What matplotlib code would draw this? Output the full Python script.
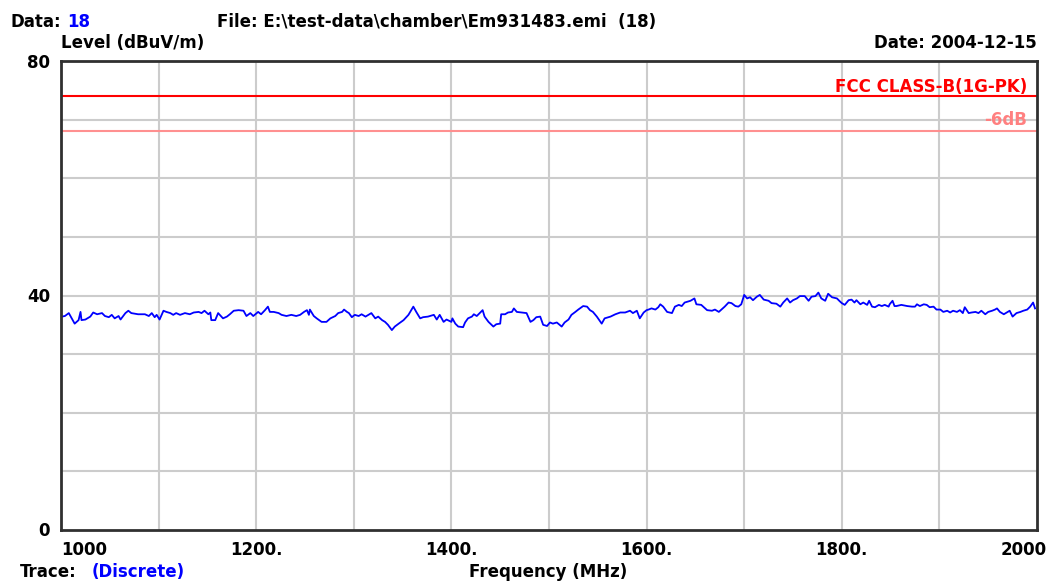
import matplotlib
matplotlib.use('Agg')
import matplotlib.pyplot as plt
import matplotlib.transforms as mtransforms

# Trace values (MHz, dBuV/m)
freq_mhz = [
    1001, 1004, 1008, 1011, 1014, 1018, 1020, 1021, 1025, 1030, 1033, 1037,
    1042, 1045, 1049, 1052, 1055, 1059, 1061, 1066, 1069, 1072, 1079, 1086,
    1090, 1093, 1096, 1098, 1101, 1105, 1108, 1112, 1115, 1118, 1122, 1127,
    1132, 1136, 1141, 1144, 1147, 1151, 1153, 1154, 1158, 1161, 1166, 1170,
    1173, 1177, 1182, 1187, 1190, 1194, 1197, 1202,
    1205, 1209, 1212, 1214, 1218, 1223, 1226, 1231, 1236, 1241, 1245, 1249,
    1252, 1254, 1255, 1259, 1262, 1267, 1272, 1276, 1281, 1284, 1288, 1290,
    1293, 1295, 1298, 1301, 1305, 1308, 1312, 1315, 1318, 1322, 1325, 1329,
    1332, 1335, 1339, 1342, 1346, 1351, 1356, 1361, 1364, 1368, 1371, 1376,
    1382, 1385, 1388, 1392, 1395, 1400,
    1401, 1404, 1407, 1412, 1414, 1417, 1421, 1423, 1426, 1429, 1432, 1434,
    1438, 1443, 1446, 1450, 1451, 1455, 1458, 1462, 1464, 1467, 1472, 1477,
    1481, 1484, 1487, 1491, 1494, 1498, 1501, 1504, 1508, 1513, 1516, 1520,
    1523, 1527, 1530, 1535, 1539, 1542, 1545, 1549, 1554, 1557, 1563, 1568,
    1573, 1578, 1583, 1586, 1590, 1593, 1597, 1600,
    1602, 1605, 1609, 1612, 1614, 1617, 1621, 1626, 1629, 1633, 1636, 1639,
    1645, 1649, 1651, 1656, 1662, 1667, 1670, 1674, 1678, 1680, 1684, 1687,
    1691, 1694, 1697, 1700, 1703, 1706, 1709, 1713, 1716, 1720, 1725, 1728,
    1733, 1737, 1740, 1744, 1747, 1750, 1754, 1757, 1762, 1766, 1769, 1773,
    1776, 1779, 1783, 1786, 1790, 1795, 1798, 1800,
    1803, 1807, 1810, 1813, 1815, 1819, 1822, 1826, 1828, 1831, 1834, 1838,
    1841, 1844, 1848, 1849, 1852, 1854, 1856, 1861, 1867, 1872, 1875, 1877,
    1880, 1884, 1887, 1890, 1894, 1897, 1901, 1904, 1908, 1911, 1914, 1918,
    1921, 1924, 1926, 1930, 1933, 1937, 1940, 1943, 1947, 1950, 1954, 1957,
    1959, 1962, 1966, 1969, 1972, 1975, 1979, 1983, 1986, 1990, 1993, 1996,
    1998,
]
level_dbuv = [
    36.4, 36.5, 37.0, 36.1, 35.2, 35.8, 37.2, 35.8, 35.9, 36.4, 37.1, 36.8,
    37.0, 36.5, 36.3, 36.7, 36.1, 36.5, 35.9, 37.0, 37.4, 37.0, 36.8, 36.8,
    36.5, 37.0, 36.3, 36.7, 35.9, 37.4, 37.2, 37.0, 36.7, 37.0, 36.7, 37.0,
    36.8, 37.1, 37.2, 37.0, 37.4, 36.8, 37.1, 35.8, 35.8, 37.0, 36.1, 36.4,
    36.8, 37.4, 37.5, 37.4, 36.5, 37.0, 36.5, 37.2,
    36.8, 37.5, 38.1, 37.2, 37.2, 37.0, 36.7, 36.5, 36.7, 36.5, 36.7, 37.2,
    37.5, 36.7, 37.6, 36.5, 36.1, 35.5, 35.5, 36.1, 36.5, 37.0, 37.2, 37.6,
    37.2, 37.0, 36.3, 36.7, 36.5, 36.8, 36.4, 36.7, 37.0, 36.1, 36.4, 35.8,
    35.5, 35.0, 34.1, 34.7, 35.2, 35.8, 36.7, 38.1, 37.2, 36.1, 36.3, 36.4,
    36.7, 35.9, 36.7, 35.5, 35.9, 35.5,
    36.1, 35.2, 34.7, 34.6, 35.4, 36.1, 36.4, 36.8, 36.5, 37.0, 37.5, 36.4,
    35.5, 34.7, 35.1, 35.2, 36.8, 36.8, 37.1, 37.2, 37.8, 37.2, 37.1, 37.0,
    35.5, 35.8, 36.3, 36.4, 35.0, 34.8, 35.4, 35.2, 35.4, 34.7, 35.4, 35.9,
    36.7, 37.2, 37.6, 38.2, 38.1, 37.5, 37.2, 36.4, 35.2, 36.1, 36.4, 36.8,
    37.1, 37.1, 37.4, 37.0, 37.4, 36.1, 37.1, 37.5,
    37.6, 37.8, 37.6, 38.0, 38.5, 38.1, 37.2, 37.0, 38.1, 38.4, 38.2, 38.8,
    39.1, 39.5, 38.5, 38.4, 37.5, 37.4, 37.6, 37.2, 37.8, 38.1, 38.8, 38.7,
    38.2, 38.1, 38.5, 40.1, 39.5, 39.7, 39.2, 39.8, 40.1, 39.3, 39.1, 38.7,
    38.6, 38.1, 38.8, 39.5, 38.8, 39.2, 39.5, 39.9, 39.9, 39.1, 39.8, 39.9,
    40.5, 39.5, 39.1, 40.3, 39.7, 39.5, 39.0, 38.7,
    38.4, 39.2, 39.3, 38.8, 39.2, 38.5, 38.8, 38.4, 39.1, 38.1, 38.0, 38.4,
    38.2, 38.4, 38.1, 38.5, 39.1, 38.2, 38.2, 38.4, 38.2, 38.1, 38.1, 38.5,
    38.2, 38.5, 38.4, 38.0, 38.1, 37.6, 37.6, 37.2, 37.4, 37.1, 37.4, 37.2,
    37.5, 37.0, 38.0, 37.0, 37.1, 37.2, 37.0, 37.4, 36.8, 37.2, 37.4, 37.6,
    37.8, 37.2, 36.8, 37.1, 37.4, 36.4, 37.0, 37.2, 37.4, 37.6, 38.1, 38.8,
    37.8,
]

# Limit lines
fcc_limit = 74
margin_db = 6

x_ticks = [1000, 1100, 1200, 1300, 1400, 1500, 1600, 1700, 1800, 1900, 2000]
x_labels = ['1000', '', '1200.', '', '1400.', '', '1600.', '', '1800.', '', '2000']
y_ticks = [0, 10, 20, 30, 40, 50, 60, 70, 80]
y_labels = ['0', '', '', '', '40', '', '', '', '80']

W, H = 1053, 583


def fx(px):
    return px / W


def fy(py):
    return 1 - py / H


def main():
    plt.rcParams['font.family'] = 'DejaVu Sans'
    plt.rcParams['font.weight'] = 'bold'
    plt.rcParams['font.size'] = 12

    fig = plt.figure(figsize=(W / 100, H / 100), dpi=100)
    ax = fig.add_axes([fx(61), fy(530), fx(1037) - fx(61), fy(61) - fy(530)])

    # grid
    for x in x_ticks[1:-1]:
        ax.axvline(x, color='#cccccc', lw=1.5, zorder=1)
    for y in y_ticks[1:-1]:
        ax.axhline(y, color='#cccccc', lw=1.5, zorder=1)

    # limit lines
    ax.axhline(fcc_limit, color='#ff0000', lw=1.5, zorder=2)
    ax.axhline(fcc_limit - margin_db, color='#ff9090', lw=1.5, zorder=2)
    ax.text(0.99, fcc_limit + 1.6, 'FCC CLASS-B(1G-PK)', color='#ff0000',
            ha='right', va='center', transform=ax.get_yaxis_transform(), zorder=3)
    ax.text(0.99, fcc_limit - margin_db + 2.0, '-6dB', color='#ff8080',
            ha='right', va='center', transform=ax.get_yaxis_transform(), zorder=3)

    # trace
    ax.plot(freq_mhz, level_dbuv, color='#0000ff', lw=1.3, zorder=4)

    ax.set_xlim(1000, 2000)
    ax.set_ylim(0, 80)
    ax.set_xticks(x_ticks)
    ax.set_xticklabels(x_labels)
    ax.set_yticks(y_ticks)
    ax.set_yticklabels(y_labels)
    ax.tick_params(length=0, pad=8)

    xl = ax.get_xticklabels()
    xl[0].set_ha('left')
    xl[-1].set_transform(xl[-1].get_transform() +
                         mtransforms.ScaledTranslation(0.1, 0, fig.dpi_scale_trans))
    xl[-1].set_ha('right')
    yl = ax.get_yticklabels()
    yl[0].set_va('bottom')
    yl[0].set_transform(yl[0].get_transform() +
                        mtransforms.ScaledTranslation(0, -0.1, fig.dpi_scale_trans))

    for s in ax.spines.values():
        s.set_color('#303030')
        s.set_linewidth(2)
        s.set_zorder(5)

    # header / footer texts
    fig.text(fx(11), fy(22), 'Data:', ha='left', va='center')
    fig.text(fx(67), fy(22), '18', ha='left', va='center', color='#0000ff')
    fig.text(fx(217), fy(22), 'File: E:\\test-data\\chamber\\Em931483.emi  (18)',
             ha='left', va='center')
    fig.text(fx(61), fy(43), 'Level (dBuV/m)', ha='left', va='center')
    fig.text(fx(1037), fy(43), 'Date: 2004-12-15', ha='right', va='center')
    fig.text(fx(548), fy(572), 'Frequency (MHz)', ha='center', va='center')
    fig.text(fx(20), fy(581), 'Trace:', ha='left', va='bottom')
    fig.text(fx(92), fy(581), '(Discrete)', ha='left', va='bottom', color='#0000ff')

    fig.savefig('out.png', dpi=100)


if __name__ == "__main__":
    main()
